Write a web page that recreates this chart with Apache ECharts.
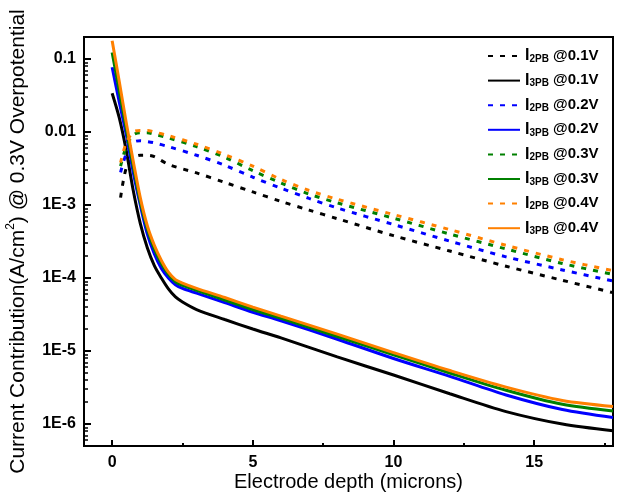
<!DOCTYPE html>
<html>
<head>
<meta charset="utf-8">
<script src="https://cdn.jsdelivr.net/npm/echarts@6/dist/echarts.min.js"></script>
<style>
  html, body { margin: 0; padding: 0; background: #ffffff; }
  #chart { width: 617px; height: 493px; }
</style>
</head>
<body>
<div id="chart"></div>
<script>
// Electrode depth (microns) sampled for each family of curves
const depth3PB = [0, 0.25, 0.5, 0.75, 1, 1.25, 1.5, 1.75, 2, 2.25, 2.5, 3, 4, 5, 6, 8, 10, 12, 14, 16, 17.8];
const depth2PB = [0.3, 0.5, 0.75, 1, 1.25, 1.5, 2, 3, 4, 5, 6, 7, 8, 10, 12, 14, 16, 17.8];

// Current contribution (A/cm^2), triple-phase-boundary path
const i3pb01 = [0.034, 0.0158, 5.6e-3, 1.58e-3, 5.6e-4, 2.6e-4, 1.48e-4, 1.0e-4, 7.1e-5, 5.5e-5, 4.7e-5, 3.7e-5, 2.7e-5, 2.0e-5, 1.51e-5, 8.3e-6, 4.7e-6, 2.6e-6, 1.48e-6, 1.0e-6, 8.1e-7];
const i3pb02 = [0.077, 0.026, 9.3e-3, 2.8e-3, 1.0e-3, 4.0e-4, 2.14e-4, 1.35e-4, 1.0e-4, 8.1e-5, 7.2e-5, 6.2e-5, 4.6e-5, 3.4e-5, 2.6e-5, 1.45e-5, 7.9e-6, 4.5e-6, 2.5e-6, 1.58e-6, 1.23e-6];
const i3pb03 = [0.123, 0.037, 0.0112, 3.4e-3, 1.12e-3, 4.7e-4, 2.5e-4, 1.58e-4, 1.12e-4, 8.9e-5, 7.9e-5, 6.8e-5, 5.0e-5, 3.7e-5, 2.8e-5, 1.58e-5, 8.9e-6, 5.0e-6, 2.9e-6, 1.86e-6, 1.51e-6];
const i3pb04 = [0.178, 0.050, 0.0135, 3.98e-3, 1.26e-3, 5.2e-4, 2.8e-4, 1.74e-4, 1.2e-4, 9.5e-5, 8.5e-5, 7.2e-5, 5.4e-5, 4.0e-5, 3.0e-5, 1.7e-5, 9.5e-6, 5.4e-6, 3.2e-6, 2.1e-6, 1.74e-6];

// Current contribution (A/cm^2), two-phase-boundary path
const i2pb01 = [1.26e-3, 3.2e-3, 4.4e-3, 4.8e-3, 4.8e-3, 4.6e-3, 3.6e-3, 2.75e-3, 2.04e-3, 1.51e-3, 1.12e-3, 8.5e-4, 6.5e-4, 3.8e-4, 2.34e-4, 1.45e-4, 9.3e-5, 6.3e-5];
const i2pb02 = [2.8e-3, 5.0e-3, 7.2e-3, 7.6e-3, 7.4e-3, 7.1e-3, 6.3e-3, 4.8e-3, 3.5e-3, 2.4e-3, 1.7e-3, 1.23e-3, 9.1e-4, 5.4e-4, 3.2e-4, 1.95e-4, 1.29e-4, 9.1e-5];
const i2pb03 = [3.4e-3, 6.3e-3, 9.1e-3, 9.8e-3, 9.8e-3, 9.3e-3, 8.3e-3, 6.3e-3, 4.5e-3, 2.95e-3, 2.0e-3, 1.41e-3, 1.07e-3, 6.6e-4, 4.0e-4, 2.5e-4, 1.58e-4, 1.12e-4];
const i2pb04 = [3.8e-3, 7.1e-3, 0.0100, 0.0105, 0.0105, 0.0100, 8.9e-3, 6.8e-3, 4.9e-3, 3.4e-3, 2.24e-3, 1.58e-3, 1.2e-3, 7.4e-4, 4.6e-4, 2.8e-4, 1.78e-4, 1.26e-4];

// Axis ticks
const xMajorTicks = [0, 5, 10, 15];
const xMinorTicks = [2.5, 7.5, 12.5, 17.5];
const yMajorTicks = [1e-6, 1e-5, 1e-4, 1e-3, 0.01, 0.1];
const yRange = [5e-7, 0.2];
const xRange = [-1, 17.8];

const FONT = '"Liberation Sans", Arial, sans-serif';
const lg = v => Math.log10(v);

// minor ticks of the log axis: 2..9 within each decade
const yMinorTicks = [];
for (let e = -7; e <= -1; e++) {
  for (let k = 2; k <= 9; k++) {
    const v = k * Math.pow(10, e);
    if (v > yRange[0] * 0.999 && v < yRange[1] * 0.999) yMinorTicks.push(lg(v));
  }
}

const dotted = [5, 7];
const seriesDefs = [
  { name: 'I2PB @0.1V', x: depth2PB, y: i2pb01, color: '#000000', type: dotted },
  { name: 'I3PB @0.1V', x: depth3PB, y: i3pb01, color: '#000000', type: 'solid' },
  { name: 'I2PB @0.2V', x: depth2PB, y: i2pb02, color: '#0000ff', type: dotted },
  { name: 'I3PB @0.2V', x: depth3PB, y: i3pb02, color: '#0000ff', type: 'solid' },
  { name: 'I2PB @0.3V', x: depth2PB, y: i2pb03, color: '#008000', type: dotted },
  { name: 'I3PB @0.3V', x: depth3PB, y: i3pb03, color: '#008000', type: 'solid' },
  { name: 'I2PB @0.4V', x: depth2PB, y: i2pb04, color: '#ff8000', type: dotted },
  { name: 'I3PB @0.4V', x: depth3PB, y: i3pb04, color: '#ff8000', type: 'solid' }
];

const series = seriesDefs.map(d => ({
  name: d.name,
  type: 'line',
  xAxisIndex: 0,
  yAxisIndex: 0,
  showSymbol: false,
  symbol: 'none',
  smooth: 0.3,
  color: d.color,
  lineStyle: { color: d.color, width: 3, type: d.type },
  data: d.x.map((x, i) => [x, lg(d.y[i])])
}));

const tickLabelStyle = { fontFamily: FONT, fontSize: 16, fontWeight: 'bold', color: '#000' };

const chart = echarts.init(document.getElementById('chart'), null, { renderer: 'canvas' });
chart.setOption({
  animation: false,
  backgroundColor: '#ffffff',
  grid: {
    left: 84, right: 4, top: 37, bottom: 47,
    outerBoundsMode: 'none',
    containLabel: false,
    show: true, borderColor: '#000', borderWidth: 2, backgroundColor: 'transparent'
  },
  legend: {
    orient: 'vertical',
    left: 487, top: 48,
    padding: 0,
    itemWidth: 32, itemHeight: 14, itemGap: 8.6,
    itemStyle: { opacity: 0 },
    data: seriesDefs.map(d => d.name),
    formatter: name => {
      const m = name.match(/^I(\dPB) (.*)$/);
      return '{i|I}{s|' + m[1] + '} {v|' + m[2] + '}';
    },
    textStyle: {
      fontFamily: FONT, fontSize: 15, fontWeight: 'bold', color: '#000',
      rich: {
        i: { fontFamily: FONT, fontSize: 16, fontWeight: 'bold', color: '#000', lineHeight: 16, verticalAlign: 'top' },
        s: { fontFamily: FONT, fontSize: 10, fontWeight: 'bold', color: '#000', lineHeight: 7, verticalAlign: 'bottom' },
        v: { fontFamily: FONT, fontSize: 15, fontWeight: 'bold', color: '#000', lineHeight: 16, verticalAlign: 'top' }
      }
    }
  },
  xAxis: [
    {
      type: 'value', position: 'bottom', min: xRange[0], max: xRange[1],
      name: 'Electrode depth (microns)', nameLocation: 'middle', nameGap: 26,
      nameMoveOverlap: false,
      nameTextStyle: { fontFamily: FONT, fontSize: 20, color: '#000', verticalAlign: 'top' },
      axisLine: { show: true, onZero: false, lineStyle: { color: '#000', width: 2 } },
      axisTick: { show: true, inside: true, length: 6, customValues: xMajorTicks, lineStyle: { color: '#000', width: 2 } },
      axisLabel: { show: true, customValues: xMajorTicks, margin: 9, ...tickLabelStyle },
      splitLine: { show: false }
    },
    {
      type: 'value', position: 'bottom', offset: 0, min: xRange[0], max: xRange[1],
      axisLine: { show: false, onZero: false },
      axisTick: { show: true, inside: true, length: 3, customValues: xMinorTicks, lineStyle: { color: '#000', width: 2 } },
      axisLabel: { show: false },
      splitLine: { show: false }
    }
  ],
  yAxis: [
    {
      type: 'value', position: 'left', min: lg(yRange[0]), max: lg(yRange[1]),
      name: '{t|Current Contribution(A/cm}{p|2}{t|) @ 0.3V Overpotential}',
      nameLocation: 'middle', nameGap: 55, nameRotate: 90,
      nameTextStyle: {
        fontFamily: FONT, fontSize: 21, color: '#000',
        rich: {
          t: { fontFamily: FONT, fontSize: 21, color: '#000', lineHeight: 24, verticalAlign: 'bottom' },
          p: { fontFamily: FONT, fontSize: 12, color: '#000', lineHeight: 18, verticalAlign: 'top' }
        }
      },
      axisLine: { show: true, onZero: false, lineStyle: { color: '#000', width: 2 } },
      axisTick: { show: true, inside: true, length: 7, customValues: yMajorTicks.map(lg), lineStyle: { color: '#000', width: 2 } },
      axisLabel: {
        show: true, customValues: yMajorTicks.map(lg), margin: 8, ...tickLabelStyle,
        formatter: v => {
          const e = Math.round(v);
          if (e === -1) return '0.1';
          if (e === -2) return '0.01';
          return '1E' + e;
        }
      },
      splitLine: { show: false }
    },
    {
      type: 'value', position: 'left', offset: 0, min: lg(yRange[0]), max: lg(yRange[1]),
      axisLine: { show: false, onZero: false },
      axisTick: { show: true, inside: true, length: 4, customValues: yMinorTicks, lineStyle: { color: '#000', width: 1.5 } },
      axisLabel: { show: false },
      splitLine: { show: false }
    }
  ],
  series: series
});
</script>
</body>
</html>
